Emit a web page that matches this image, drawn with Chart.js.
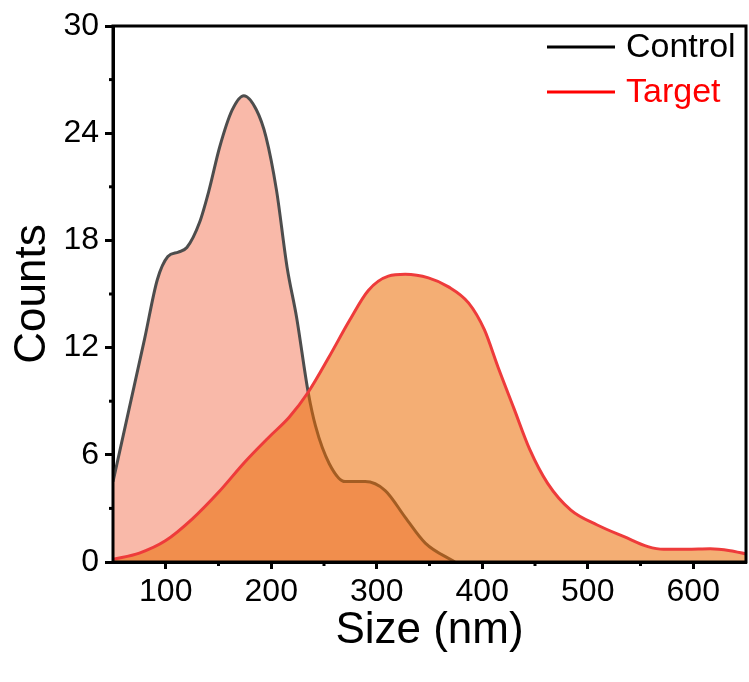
<!DOCTYPE html>
<html>
<head>
<meta charset="utf-8">
<script src="https://cdn.jsdelivr.net/npm/chart.js@4/dist/chart.umd.min.js"></script>
<style>
  html, body { margin: 0; padding: 0; background: #fff; }
  #wrap { width: 749px; height: 682px; }
</style>
</head>
<body>
<div id="wrap"><canvas id="sizeChart" width="749" height="682"></canvas></div>
<script>
// size distribution
const seriesNames = ['Control', 'Target'];

const controlSize   = [50, 65, 80, 92, 102, 112, 120, 132, 141, 151, 163, 174, 186, 195, 205, 215, 224, 235, 242, 255, 270, 289, 308, 327, 346, 374];
const controlCounts = [4.5, 8.5, 12.5, 15.8, 17.1, 17.35, 17.6, 19.0, 20.8, 23.2, 25.3, 26.1, 25.3, 23.8, 20.8, 16.5, 13.7, 9.5, 7.6, 5.5, 4.5, 4.5, 4.0, 2.5, 1.06, 0];

const targetSize   = [50, 75, 100, 125, 150, 175, 198, 217, 235, 255, 274, 292, 311, 327, 349, 368, 387, 402, 415, 430, 445, 462, 484, 509, 535, 557, 572, 594, 616, 635, 650];
const targetCounts = [0.15, 0.5, 1.2, 2.4, 3.9, 5.6, 7.0, 8.1, 9.5, 11.5, 13.5, 15.2, 16.0, 16.1, 15.9, 15.4, 14.5, 13.0, 10.9, 8.6, 6.3, 4.4, 2.9, 2.07, 1.4, 0.86, 0.71, 0.71, 0.74, 0.63, 0.45];

const xTickValues = [100, 200, 300, 400, 500, 600];
const xMinorTicks = [150, 250, 350, 450, 550];
const yTickValues = [0, 6, 12, 18, 24, 30];
const yMinorTicks = [3, 9, 15, 21, 27];

const FONT = 'Arial, "Liberation Sans", sans-serif';

function toPoints(xs, ys) {
    return xs.map((x, i) => ({ x: x, y: ys[i] }));
}

// frame, minor ticks and the legend box in the top right corner
const framePlugin = {
    id: 'frame',
    afterDatasetsDraw(chart) {
        const { ctx, chartArea: a, scales } = chart;
        ctx.save();
        ctx.strokeStyle = '#000';
        ctx.lineWidth = 3;
        ctx.strokeRect(a.left, a.top, a.right - a.left, a.bottom - a.top);

        // minor ticks
        xMinorTicks.forEach(v => {
            const px = scales.x.getPixelForValue(v);
            ctx.beginPath();
            ctx.moveTo(px, a.bottom);
            ctx.lineTo(px, a.bottom + 4);
            ctx.stroke();
        });
        yMinorTicks.forEach(v => {
            const py = scales.y.getPixelForValue(v);
            ctx.beginPath();
            ctx.moveTo(a.left, py);
            ctx.lineTo(a.left - 4, py);
            ctx.stroke();
        });

        // legend
        const legendColors = ['#000000', '#ff0000'];
        ctx.font = '34px ' + FONT;
        ctx.textBaseline = 'middle';
        ctx.textAlign = 'left';
        seriesNames.forEach((name, i) => {
            const y = 47 + i * 45;
            ctx.strokeStyle = legendColors[i];
            ctx.lineWidth = 3;
            ctx.beginPath();
            ctx.moveTo(547, y);
            ctx.lineTo(615, y);
            ctx.stroke();
            ctx.fillStyle = legendColors[i];
            ctx.fillText(name, 626, y + 1);
        });
        ctx.restore();
    }
};

const ctx = document.getElementById('sizeChart').getContext('2d');
const sizeChart = new Chart(ctx, {
    type: 'line',
    data: {
        datasets: [
            {
                label: seriesNames[0],
                data: toPoints(controlSize, controlCounts),
                borderColor: '#4d4d4d',
                backgroundColor: 'rgb(249, 185, 169)',
                borderWidth: 3,
                pointRadius: 0,
                fill: 'origin',
                cubicInterpolationMode: 'monotone',
                order: 1
            },
            {
                label: seriesNames[1],
                data: toPoints(targetSize, targetCounts),
                borderColor: '#ee3b3b',
                backgroundColor: 'rgba(235, 108, 2, 0.55)',
                borderWidth: 3,
                pointRadius: 0,
                fill: 'origin',
                cubicInterpolationMode: 'monotone',
                order: 0
            }
        ]
    },
    options: {
        responsive: false,
        animation: false,
        devicePixelRatio: 1,
        layout: { padding: { top: 26, right: 3, left: 0, bottom: 0 } },
        plugins: {
            legend: { display: false },
            tooltip: { enabled: false }
        },
        scales: {
            x: {
                type: 'linear',
                min: 50,
                max: 650,
                afterBuildTicks: axis => { axis.ticks = xTickValues.map(v => ({ value: v })); },
                afterFit: axis => { axis.height = 120; },
                grid: {
                    drawOnChartArea: false,
                    tickLength: 7,
                    tickWidth: 3,
                    tickColor: '#000'
                },
                border: { color: '#000', width: 3 },
                ticks: {
                    color: '#000',
                    padding: 4,
                    maxRotation: 0,
                    font: { family: FONT, size: 32 }
                },
                title: {
                    display: true,
                    text: 'Size (nm)',
                    color: '#000',
                    padding: { bottom: 25 },
                    font: { family: FONT, size: 44 }
                }
            },
            y: {
                min: 0,
                max: 30,
                afterBuildTicks: axis => { axis.ticks = yTickValues.map(v => ({ value: v })); },
                afterFit: axis => { axis.width = 113; },
                grid: {
                    drawOnChartArea: false,
                    tickLength: 8,
                    tickWidth: 3,
                    tickColor: '#000'
                },
                border: { color: '#000', width: 3 },
                ticks: {
                    color: '#000',
                    padding: 6,
                    font: { family: FONT, size: 32 }
                },
                title: {
                    display: true,
                    text: 'Counts',
                    color: '#000',
                    padding: { top: 6 },
                    font: { family: FONT, size: 44 }
                }
            }
        }
    },
    plugins: [framePlugin]
});
</script>
</body>
</html>
